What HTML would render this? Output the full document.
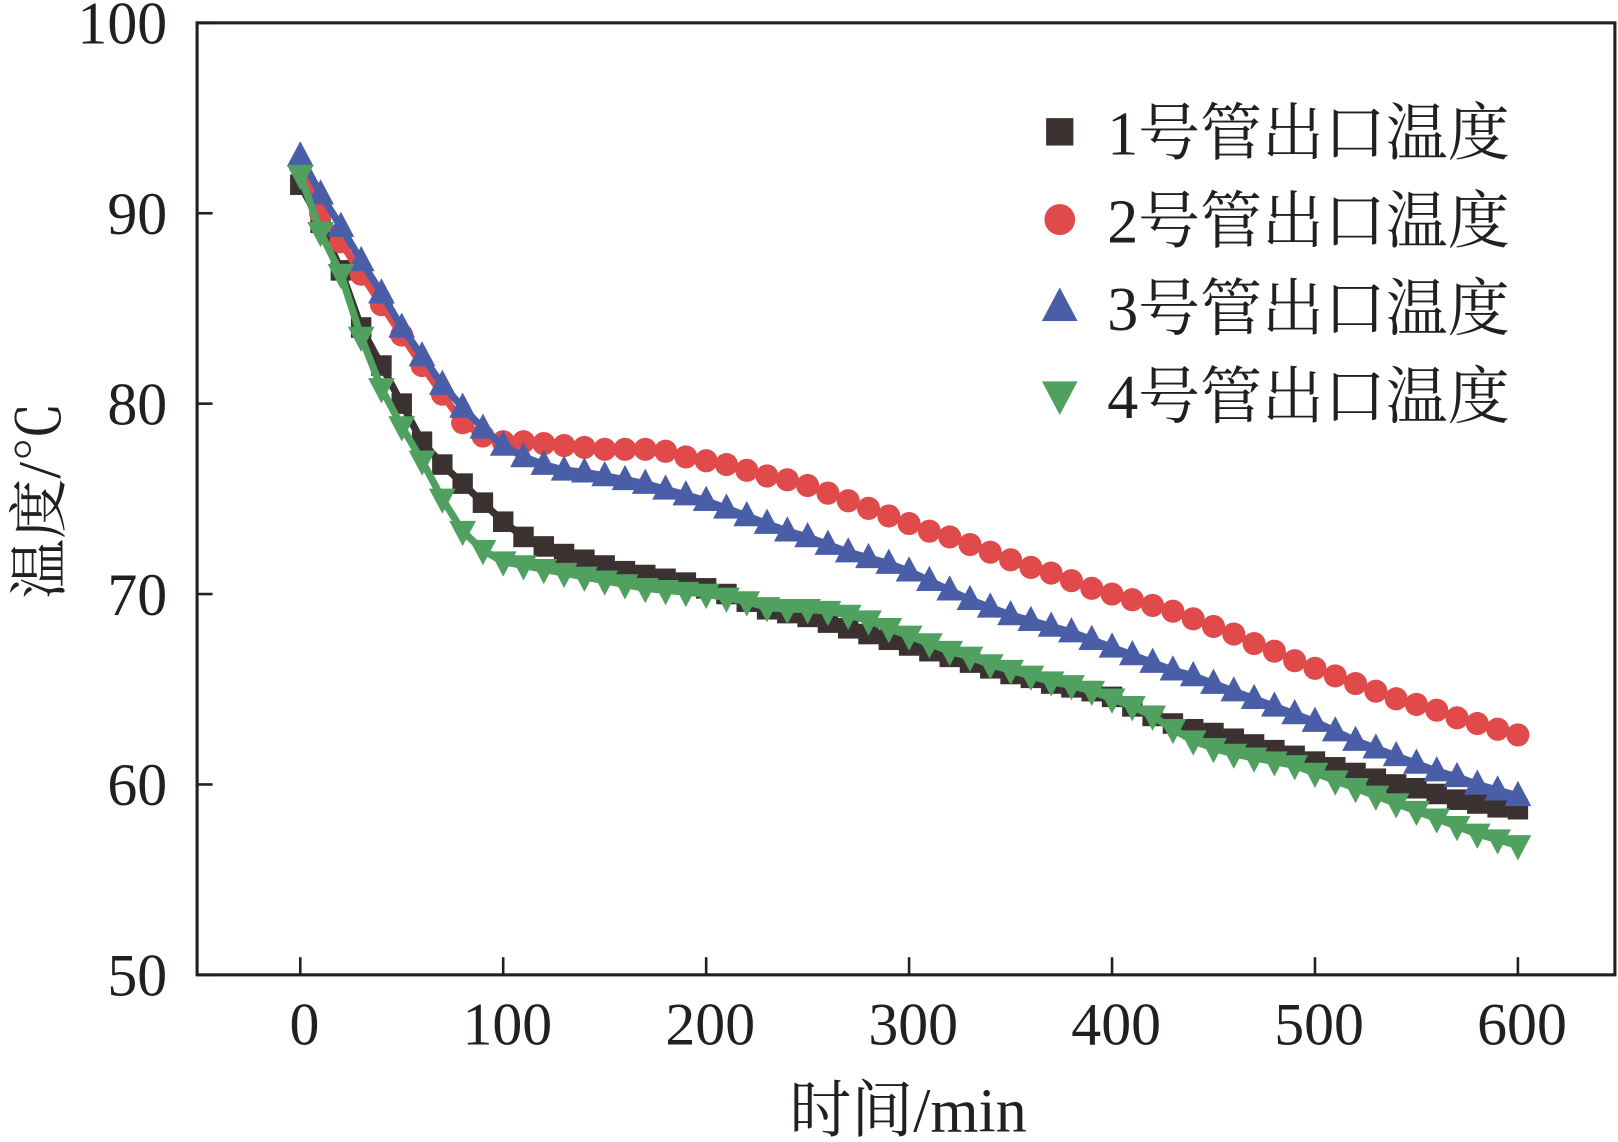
<!DOCTYPE html>
<html><head><meta charset="utf-8"><style>
html,body{margin:0;padding:0;background:#fff;}
svg{display:block;}
text{font-family:"Liberation Serif","Noto Serif CJK SC",serif;fill:#231f20;}
</style></head><body>
<svg id="chart" width="1618" height="1142" viewBox="0 0 1568 1100" preserveAspectRatio="none" xmlns="http://www.w3.org/2000/svg">
<rect x="191" y="22" width="1374" height="917" fill="none" stroke="#231f20" stroke-width="3"/>
<g id="axes"></g>
<g id="series"></g>
<text transform="translate(58,482) rotate(-90)" text-anchor="middle" font-size="58">温度/℃</text>
<text x="880" y="1090" text-anchor="middle" font-size="60">时间/min</text>
<g id="legend"></g>
</svg>
<script>
const times=[0,10,20,30,40,50,60,70,80,90,100,110,120,130,140,150,160,170,180,190,200,210,220,230,240,250,260,270,280,290,300,310,320,330,340,350,360,370,380,390,400,410,420,430,440,450,460,470,480,490,500,510,520,530,540,550,560,570,580,590,600];
const tube1=[91.5,89.5,87,84,82,80,78,76.8,75.8,74.8,73.8,73,72.5,72.1,71.8,71.5,71.2,71,70.8,70.6,70.3,70,69.6,69.2,69,68.8,68.5,68.2,67.9,67.6,67.3,67,66.7,66.4,66.1,65.8,65.6,65.3,65.1,64.9,64.6,64.1,63.6,63.2,62.9,62.7,62.4,62.1,61.8,61.5,61.2,60.9,60.6,60.3,60,59.8,59.5,59.2,59,58.8,58.7];
const tube2=[92.5,90,88.5,86.8,85.2,83.6,82,80.5,79,78.3,78,78,77.9,77.8,77.7,77.6,77.6,77.6,77.5,77.2,77,76.8,76.5,76.2,76,75.7,75.3,74.9,74.5,74.1,73.7,73.3,73,72.6,72.2,71.8,71.4,71.1,70.7,70.3,70,69.7,69.4,69.1,68.7,68.3,67.9,67.4,67,66.5,66.1,65.7,65.3,64.9,64.5,64.2,63.9,63.5,63.2,62.9,62.6];
const tube3=[93,91,89.3,87.5,85.8,84,82.5,81,79.8,78.7,77.8,77.2,76.8,76.5,76.4,76.2,76,75.8,75.5,75.2,74.9,74.5,74.1,73.7,73.3,73,72.6,72.2,71.9,71.6,71.2,70.7,70.2,69.7,69.3,68.9,68.6,68.3,68,67.6,67.2,66.8,66.4,66,65.7,65.3,64.9,64.5,64.1,63.7,63.3,62.8,62.3,61.9,61.5,61.1,60.7,60.4,60,59.7,59.4];
const tube4=[92,89,86.8,83.5,80.8,78.8,77,75,73.3,72.3,71.7,71.5,71.3,71.1,70.9,70.7,70.5,70.3,70.2,70.1,70,69.8,69.6,69.3,69.2,69.2,69.1,68.9,68.6,68.2,67.8,67.4,67,66.7,66.3,66,65.7,65.4,65.2,64.9,64.5,64.1,63.6,62.9,62.3,61.9,61.6,61.4,61.2,61,60.6,60.2,59.8,59.4,59,58.6,58.2,57.8,57.4,57.1,56.8];
const xTicks=[0,100,200,300,400,500,600];
const yTicks=[50,60,70,80,90,100];
const legendLabels=["1号管出口温度","2号管出口温度","3号管出口温度","4号管出口温度"];

const NS="http://www.w3.org/2000/svg";
const xs=v=>291+v*(1471-291)/600;
const ys=v=>939-(v-50)*(939-22)/50;
function mk(tag,attrs,parent){const e=document.createElementNS(NS,tag);for(const k in attrs)e.setAttribute(k,attrs[k]);parent.appendChild(e);return e;}
const axes=document.getElementById('axes');
xTicks.forEach(t=>{
  const l=mk('line',{x1:xs(t),x2:xs(t),y1:939,y2:922,stroke:'#231f20','stroke-width':2.5},axes);
  
  
  const tx=mk('text',{x:xs(t)+4,y:1006,'text-anchor':'middle','font-size':58},axes);
  tx.textContent=t;
  
  
});
yTicks.forEach(t=>{
  const l=mk('line',{x1:191,x2:206,y1:ys(t),y2:ys(t),stroke:'#231f20','stroke-width':2.5},axes);
  
  
  const tx=mk('text',{x:162,y:ys(t)+20,'text-anchor':'end','font-size':58},axes);
  tx.textContent=t;
  
  
});
const colors=['#3b3131','#e04a4a','#4a5ea8','#50a060'];
const shapes=['square','circle','up','down'];
function marker(shape,x,y,s,color,parent){
  if(shape==='square')return mk('rect',{x:x-s*0.55,y:y-s*0.55,width:s*1.1,height:s*1.1,fill:color},parent);
  if(shape==='circle')return mk('circle',{cx:x,cy:y,r:s*0.62,fill:color},parent);
  if(shape==='up')return mk('polygon',{points:`${x},${y-s*0.8} ${x-s*0.72},${y+s*0.55} ${x+s*0.72},${y+s*0.55}`,fill:color},parent);
  return mk('polygon',{points:`${x},${y+s*0.8} ${x-s*0.72},${y-s*0.55} ${x+s*0.72},${y-s*0.55}`,fill:color},parent);
}
const all=[tube1,tube2,tube3,tube4];
const sg=document.getElementById('series');
[0,1,2,3].forEach(i=>{
  const g=mk('g',{},sg);
  
  
  const pl=mk('polyline',{points:times.map((t,j)=>xs(t)+','+ys(all[i][j])).join(' '),fill:'none',stroke:colors[i],'stroke-width':7},g);
  
  
  times.forEach((t,j)=>{
    const m=marker(shapes[i],xs(t),ys(all[i][j]),18,colors[i],g);
    
    
  });
});
const lg=document.getElementById('legend');
legendLabels.forEach((lab,i)=>{
  const y=127+i*84.5;
  const g=mk('g',{},lg);
  
  
  marker(shapes[i],1027,y,24,colors[i],g);
  const tx=mk('text',{x:1073,y:y+22,'font-size':60},g);
  tx.textContent=lab;
});
</script>
</body></html>
